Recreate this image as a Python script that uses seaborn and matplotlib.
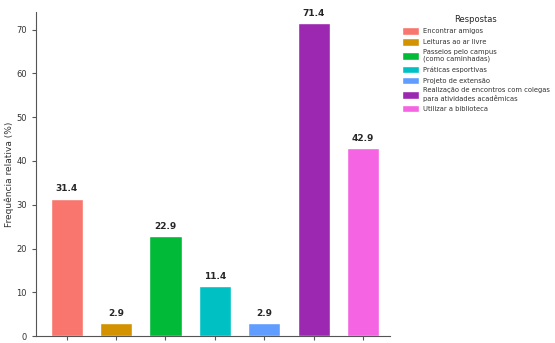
import matplotlib.pyplot as plt
import seaborn as sns
import pandas as pd

respostas = [
    "Encontrar amigos",
    "Leituras ao ar livre",
    "Passeios pelo campus\n(como caminhadas)",
    "Práticas esportivas",
    "Projeto de extensão",
    "Realização de encontros com colegas\npara atividades acadêmicas",
    "Utilizar a biblioteca",
]
frequencia = [31.4, 2.9, 22.9, 11.4, 2.9, 71.4, 42.9]
cores = ["#F8766D", "#D39200", "#00BA38", "#00C0C4", "#619CFF", "#9C27B0", "#F564E3"]

df = pd.DataFrame({"Respostas": respostas, "Frequencia": frequencia})

sns.set_style("white")
plt.rcParams["font.family"] = ["DejaVu Sans"]

fig = plt.figure(figsize=(5.55, 3.43), dpi=100)
ax = fig.add_axes([0.065, 0.02, 0.638, 0.945])

sns.barplot(data=df, x="Respostas", y="Frequencia", hue="Respostas",
            palette=cores, width=0.65, dodge=False, saturation=1,
            legend=True, ax=ax)

for i, v in enumerate(frequencia):
    ax.text(i, v + 1.2, f"{v:.1f}", ha="center", va="bottom",
            fontsize=6.5, fontweight="bold")

ax.set_ylim(0, 74)
ax.set_xlim(-0.62, 6.55)
ax.set_xticks(range(len(respostas)))
ax.set_xticklabels([""] * len(respostas))
ax.set_xlabel("")
ax.set_ylabel("Frequência relativa (%)", fontsize=6.5, color="#333333", labelpad=2)
ax.tick_params(axis="both", which="both", length=3, labelsize=6, direction="out",
               bottom=True, left=True, color="#555555", labelcolor="#333333")
for s in ["top", "right"]:
    ax.spines[s].set_visible(False)
for s in ["left", "bottom"]:
    ax.spines[s].set_color("#555555")
    ax.spines[s].set_linewidth(0.8)

leg = ax.legend(title="Respostas", loc="upper left", bbox_to_anchor=(1.015, 1.01),
                frameon=False, fontsize=4.9, title_fontsize=6,
                handlelength=2.6, handleheight=1.3, labelspacing=0.5,
                handletextpad=0.6)
for t in leg.get_texts():
    t.set_color("#333333")

fig.savefig("out.png", dpi=100)
